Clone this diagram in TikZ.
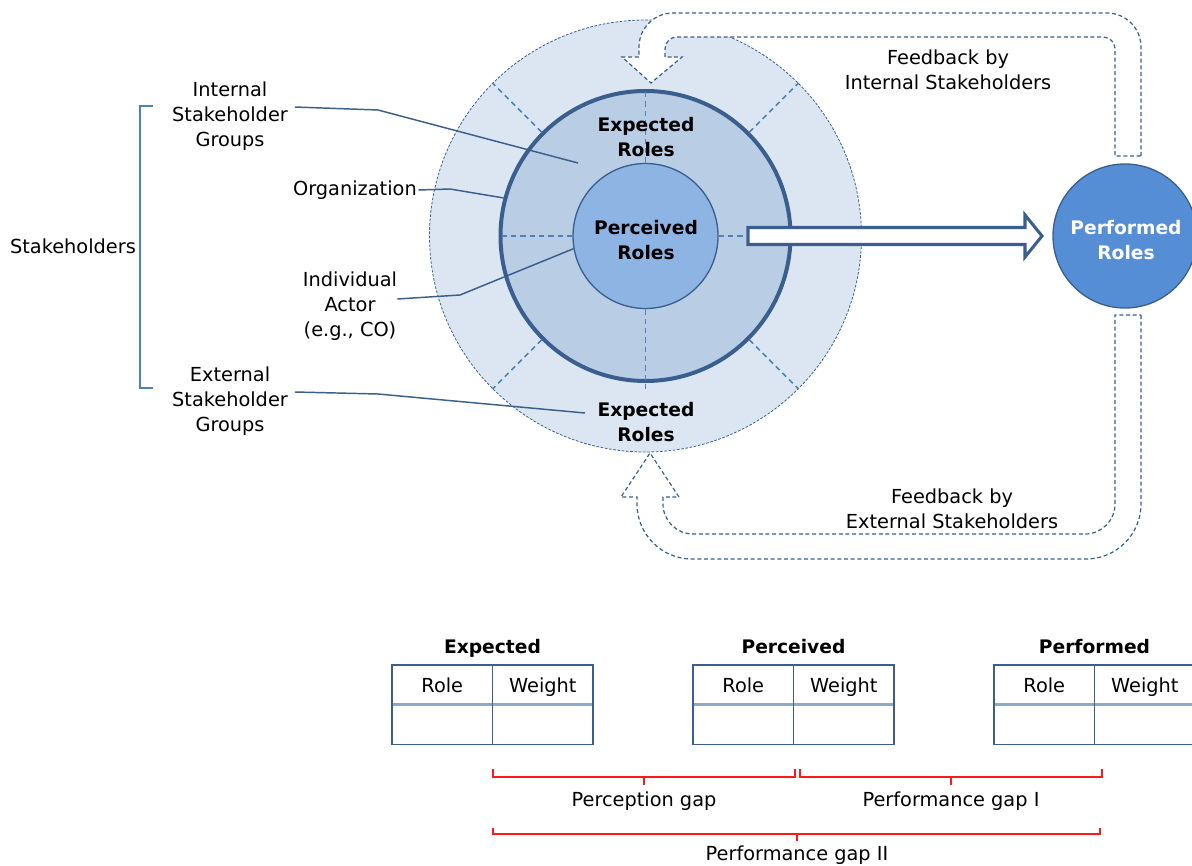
\documentclass[tikz,border=0pt]{standalone}
\usepackage{fontspec}
\setmainfont{DejaVu Sans}
\usepackage{xcolor}
\usetikzlibrary{positioning}

\definecolor{ringout}{HTML}{DCE6F2}
\definecolor{ringmid}{HTML}{B9CDE5}
\definecolor{ringin}{HTML}{8EB4E3}
\definecolor{perfblue}{HTML}{558ED5}
\definecolor{edgeblue}{HTML}{3A5F8E}
\definecolor{linkblue}{HTML}{3B5E8C}
\definecolor{spokeblue}{HTML}{4F81BD}
\definecolor{headline}{HTML}{8EA9CC}

\begin{document}
\begin{tikzpicture}[x=0.75pt,y=-0.75pt,
  every node/.style={font=\fontsize{14.5}{18.75}\selectfont, align=center, inner sep=0pt},
  link/.style={linkblue, line width=1.1pt},
  spoke/.style={spokeblue, line width=1.1pt, dash pattern=on 4pt off 3pt},
  feedback/.style={linkblue, line width=0.9pt, densely dashed, fill=white},
  roles/.style={font=\fontsize{14}{18.75}\selectfont\bfseries},
  cell/.style={minimum width=75.4pt, minimum height=29.7pt, outer sep=0pt, text height=14pt, text depth=2pt},
  tabframe/.style={edgeblue, line width=0.9pt},
  tabhead/.style={headline, line width=1.8pt},
  gapbrace/.style={red!90!white, line width=0.8pt}]
\useasboundingbox (0,0) rectangle (1192,866);

\node[circle, fill=ringout, draw=linkblue, line width=0.6pt, dash pattern=on 2pt off 1.2pt, minimum size=324pt] (outer) at (645.5,236) {};

% feedback loops
\draw[feedback] (1141,156) -- (1141,47) arc[start angle=0, end angle=-90, radius=34] -- (673,13)
  arc[start angle=-90, end angle=-180, radius=34] -- (639,57) -- (622,57) -- (651,83) -- (682,57) -- (665,57) -- (665,49)
  arc[start angle=180, end angle=270, radius=12] -- (1103,37) arc[start angle=-90, end angle=0, radius=12] -- (1115,156) -- cycle;
\draw[feedback] (1141,315) -- (1141,504) arc[start angle=0, end angle=90, radius=55] -- (692,559)
  arc[start angle=90, end angle=180, radius=55] -- (637,497) -- (621,497) -- (650,453) -- (679,497) -- (663,497) -- (663,504)
  arc[start angle=180, end angle=90, radius=30] -- (1085,534) arc[start angle=90, end angle=0, radius=30] -- (1115,315) -- cycle;

\node[circle, fill=ringmid, draw=edgeblue, line width=3pt, minimum size=217.5pt] (org) at (645.5,236) {};
\node[circle, fill=ringin, draw=edgeblue, line width=1pt, minimum size=108.75pt] (actor) at (645.5,236) {};
\node[circle, fill=perfblue, draw=edgeblue, line width=1pt, minimum size=108pt] (perf) at (1125,236) {};

\foreach \a in {45,135,225,315}
  \draw[spoke] (org.\a) -- (outer.\a);
\draw[spoke] (actor.north) -- (org.north);
\draw[spoke, shorten >=-6pt] (actor.south) -- (org.south);
\draw[spoke] (actor.west) -- (org.west);
\coordinate (arrowstart) at (748,236);
\draw[spoke] (actor.east) -- (arrowstart);

\draw[edgeblue, line width=2.3pt, fill=white] (748,227.5) -- (1025,227.5) -- (1025,215) -- (1042,236) -- (1025,257) -- (1025,244.5) -- (748,244.5) -- cycle;

\node[roles] (percl) at (646,240) {Perceived\\Roles};
\node[roles, text=white] (perfl) at (1126,240) {Performed\\Roles};
\node[roles] (exptop) at (646,137) {Expected\\Roles};
\node[roles] (expbot) at (646,422) {Expected\\Roles};
\node (fbint) at (948,70) {Feedback by\\Internal Stakeholders};
\node (fbext) at (952,509) {Feedback by\\External Stakeholders};

% stakeholder labels
\node (stake) at (73,246) {Stakeholders};
\node (intgrp) at (230,116) {Internal\\Stakeholder\\Groups};
\node[anchor=east] (orglbl) at (417,190) {Organization};
\node (actlbl) at (350,306) {Individual\\Actor\\(e.g., CO)};
\node (extgrp) at (230,401) {External\\Stakeholder\\Groups};

\coordinate (brtop) at (153,106);
\coordinate (brbot) at (153,388);
\draw[spokeblue, line width=0.9pt] (brtop) -- ++(-13,0) |- (brbot);

\coordinate (intbend) at (378,110);
\coordinate (intend) at (578,163);
\draw[link] ([xshift=5pt,yshift=6.75pt]intgrp.east) -- (intbend) -- (intend);
\coordinate (orgbend) at (450,189);
\draw[link] ([xshift=1pt]orglbl.east) -- (orgbend) -- (org.165);
\coordinate (actbend) at (460,295);
\draw[link] ([yshift=5.25pt]actlbl.east) -- (actbend) -- (actor.190);
\coordinate (extbend) at (378,394);
\coordinate (extend) at (585,413);
\draw[link] ([xshift=5pt,yshift=6.75pt]extgrp.east) -- (extbend) -- (extend);

% role tables
\foreach \tab/\x/\title in {exp/392/Expected, per/693/Perceived, prf/994/Performed}{
  \node[cell, anchor=north west] (\tab-role) at (\x,665) {Role};
  \node[cell, right=0pt of \tab-role] (\tab-wgt) {Weight};
  \node[cell, below=0pt of \tab-role] (\tab-rv) {};
  \node[cell, below=0pt of \tab-wgt] (\tab-wv) {};
  \node[roles, anchor=base] (\tab-title) at (\x+100.5,653) {\title};
  \draw[tabhead] (\tab-role.south west) -- (\tab-wgt.south east);
  \draw[tabframe] (\tab-role.north west) rectangle (\tab-wv.south east);
  \draw[tabframe] (\tab-role.north east) -- (\tab-rv.south east);
}

% gaps
\draw[gapbrace] (493,769) -- (493,777) -- (795,777) -- (795,769) (644,777) -- (644,785);
\draw[gapbrace] (800,769) -- (800,777) -- (1102,777) -- (1102,769) (951,777) -- (951,785);
\draw[gapbrace] (493,828) -- (493,834) -- (1100,834) -- (1100,828) (797,834) -- (797,841);
\node[anchor=base] (percgap) at (644,806) {Perception gap};
\node[anchor=base] (perfgap) at (951,806) {Performance gap I};
\node[anchor=base] (perfgaptwo) at (797,860) {Performance gap II};
\end{tikzpicture}
\end{document}
